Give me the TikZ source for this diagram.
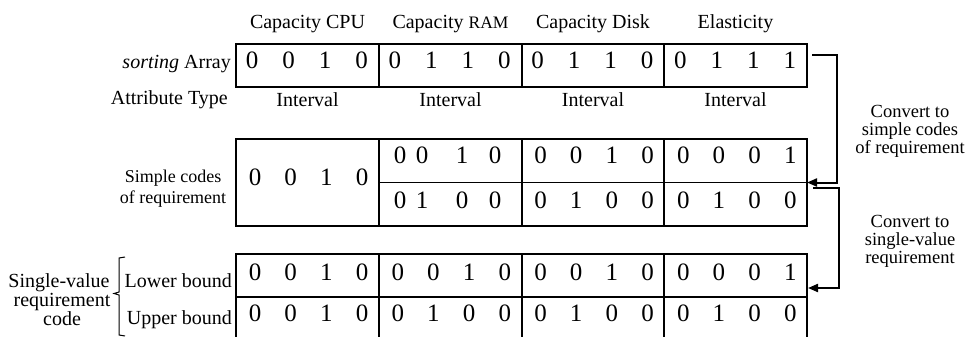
\documentclass[tikz,border=0pt]{standalone}
\usepackage{fontspec}
\setmainfont{Liberation Serif}
\usetikzlibrary{arrows.meta,calc}
\begin{document}
\begin{tikzpicture}[x=1pt,y=-1pt,
  lbl/.style={font=\fontsize{20}{22}\selectfont, inner sep=0pt, anchor=base},
  slbl/.style={font=\fontsize{18}{20}\selectfont, inner sep=0pt, anchor=base},
  rlbl/.style={font=\fontsize{18.5}{20}\selectfont, inner sep=0pt, anchor=base},
  dig/.style={font=\fontsize{25}{27}\selectfont, inner sep=0pt, anchor=base},
  box/.style={draw, line width=1.2pt, inner sep=0pt, outer sep=0pt, anchor=north west, minimum width=571pt},
  grid/.style={line width=1.2pt},
  conn/.style={line width=2pt, -{Triangle[length=10pt,width=8pt]}},
]
\useasboundingbox (0,0) rectangle (966,337);

% headers
\node[lbl] (hcpu) at (307.5,29) {Capacity CPU};
\node[lbl] (hram) at (450.5,29) {Capacity {\fontsize{17.5}{19}\selectfont RAM}};
\node[lbl] (hdisk) at (593,29) {Capacity Disk};
\node[lbl] (hel) at (735.5,29) {Elasticity};

% boxes
\node[box, minimum height=43pt] (topbox) at (236,44) {};
\node[box, minimum height=87pt] (midbox) at (236,139) {};
\node[box, minimum height=88pt] (botbox) at (236,254) {};
\foreach \x in {379,522,664}{
  \draw[grid] (\x,44) -- (\x,87);
  \draw[grid] (\x,139) -- (\x,226);
  \draw[grid] (\x,254) -- (\x,342);
}
\draw[grid] (379,182.5) -- (807,182.5);
\draw[grid] (236,297) -- (807,297);

% left labels
\node[lbl, anchor=base east] (sa) at (231,69) {\textit{sorting} Array};
\node[lbl, anchor=base east] (at) at (228,104) {Attribute Type};
\node[slbl] (sc1) at (173,182) {Simple codes};
\node[slbl] (sc2) at (173,203) {of requirement};
\node[lbl, anchor=base east] (lb) at (232,287) {Lower bound};
\node[lbl, anchor=base east] (ub) at (232,324) {Upper bound};
\node[lbl] (sv1) at (59,287) {Single-value};
\node[lbl] (sv2) at (62,306) {requirement};
\node[lbl] (sv3) at (62,325) {code};
\draw[line width=1pt] (125,257) -- (119,258) -- (119,292) -- (114,293.5) -- (119,295) -- (119,335) -- (125,336);

% interval labels
\foreach \c/\xc in {0/307.5,1/450.5,2/593,3/735.5}{
  \node[lbl] (iv\c) at (\xc,106) {Interval};
}

% top row digits
\foreach \c/\da/\db/\dc/\dd in {0/0/0/1/0,1/0/1/1/0,2/0/1/1/0,3/0/1/1/1}{
  \foreach \v [count=\i] in {\da,\db,\dc,\dd}{
    \pgfmathsetmacro\xx{236+142.75*\c+16+36.5*(\i-1)}
    \node[dig] (t\c\i) at (\xx,69) {\v};
  }
}

% middle: CPU
\foreach \v [count=\i] in {0,0,1,0}{
  \pgfmathsetmacro\xx{236+19+35.7*(\i-1)}
  \node[dig] (m0\i) at (\xx,185) {\v};
}
% middle: RAM (irregular)
\foreach \v/\xx [count=\i] in {0/400,0/422,1/462,0/495}{
  \node[dig] (mu1\i) at (\xx,163) {\v};
}
\foreach \v/\xx [count=\i] in {0/400,1/422,0/462,0/495}{
  \node[dig] (ml1\i) at (\xx,208) {\v};
}
% middle: Disk, Elasticity
\foreach \c/\da/\db/\dc/\dd/\ea/\eb/\ec/\ed in {2/0/0/1/0/0/1/0/0,3/0/0/0/1/0/1/0/0}{
  \foreach \v [count=\i] in {\da,\db,\dc,\dd}{
    \pgfmathsetmacro\xx{236+142.75*\c+19+35.7*(\i-1)}
    \node[dig] (mu\c\i) at (\xx,163) {\v};
  }
  \foreach \v [count=\i] in {\ea,\eb,\ec,\ed}{
    \pgfmathsetmacro\xx{236+142.75*\c+19+35.7*(\i-1)}
    \node[dig] (ml\c\i) at (\xx,208) {\v};
  }
}

% bottom rows
\foreach \c/\da/\db/\dc/\dd/\ea/\eb/\ec/\ed in {0/0/0/1/0/0/0/1/0,1/0/0/1/0/0/1/0/0,2/0/0/1/0/0/1/0/0,3/0/0/0/1/0/1/0/0}{
  \foreach \v [count=\i] in {\da,\db,\dc,\dd}{
    \pgfmathsetmacro\xx{236+142.75*\c+19+35.7*(\i-1)}
    \node[dig] (bu\c\i) at (\xx,280) {\v};
  }
  \foreach \v [count=\i] in {\ea,\eb,\ec,\ed}{
    \pgfmathsetmacro\xx{236+142.75*\c+19+35.7*(\i-1)}
    \node[dig] (bl\c\i) at (\xx,321) {\v};
  }
}

% right labels
\node[rlbl] (r1a) at (910,117) {Convert to};
\node[rlbl] (r1b) at (910,135) {simple codes};
\node[rlbl] (r1c) at (910,153) {of requirement};
\node[rlbl] (r2a) at (910,227) {Convert to};
\node[rlbl] (r2b) at (910,245) {single-value};
\node[rlbl] (r2c) at (910,263) {requirement};

% connectors
\draw[conn] ($(topbox.north east)+(5,11)$) -- ++(25,0) |- (midbox.east);
\draw[conn] ($(midbox.east)+(6,5)$) -- ++(26,0) |- ($(botbox.north east)+(1,34)$);
\end{tikzpicture}
\end{document}
